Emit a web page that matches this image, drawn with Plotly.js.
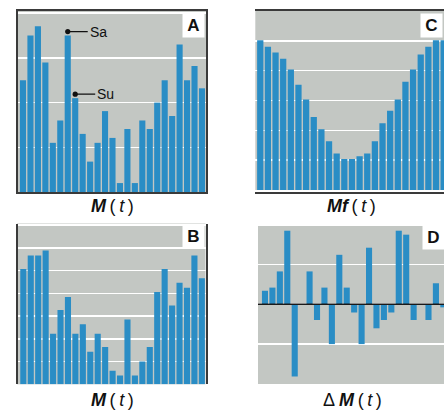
<!DOCTYPE html>
<html>
<head>
<meta charset="utf-8">
<script src="https://cdn.plot.ly/plotly-3.0.1.min.js"></script>
<style>
html,body{margin:0;padding:0;overflow:hidden;background:#fff;}
#chart{width:450px;height:411px;}
</style>
</head>
<body>
<div id="chart"></div>
<script>
// Panel A: M(t)
const valuesA = [2.50, 3.50, 3.71, 2.90, 1.10, 1.60, 3.50, 2.10, 1.30, 0.68, 1.10, 1.81, 1.21, 0.20, 1.41, 0.20, 1.60, 1.41, 2.00, 2.50, 1.70, 3.30, 2.50, 2.82, 2.32];
// Panel B: M(t)
const valuesB = [5.07, 5.66, 5.66, 5.88, 2.22, 3.27, 3.84, 2.22, 2.64, 1.43, 2.22, 1.64, 0.60, 0.39, 2.85, 0.39, 1.00, 1.64, 4.06, 5.07, 3.46, 4.46, 4.25, 5.66, 4.66];
// Panel C: Mf(t)
const valuesC = [5.02, 4.80, 4.61, 4.40, 4.04, 3.53, 3.03, 2.45, 2.04, 1.63, 1.22, 1.04, 1.04, 1.13, 1.22, 1.63, 2.24, 2.66, 3.03, 3.63, 4.04, 4.54, 4.80, 5.02, 5.02];
// Panel D: ΔM(t)
const valuesD = [0.34, 0.42, 0.83, 1.86, -1.83, 0, 0.83, -0.40, 0.42, -1.01, 1.25, 0.42, -0.21, -1.01, 1.43, -0.61, -0.40, -0.21, 1.86, 1.76, -0.40, 0, -0.40, 0.53, -0.08];

const panelLetters = ['A', 'C', 'B', 'D'];
const TS = '\u2009';
const panelTitles = [
  '<b><i>M</i></b>' + TS + '(' + TS + '<i>t</i>' + TS + ')',
  '<b><i>Mf</i></b>' + TS + '(' + TS + '<i>t</i>' + TS + ')',
  '<b><i>M</i></b>' + TS + '(' + TS + '<i>t</i>' + TS + ')',
  'Δ <b><i>M</i></b>' + TS + '(' + TS + '<i>t</i>' + TS + ')'
];
const markerLabels = ['Sa', 'Su'];
const markerIndex = [6, 7];

const W = 450, H = 411;
const BAR = '#2a8dc5';
const FRAME = '#3a3a3a';
const idx = arr => arr.map((_, i) => i);

const trace = (vals, n) => ({
  type: 'bar', x: idx(vals), y: vals,
  xaxis: 'x' + (n === 1 ? '' : n), yaxis: 'y' + (n === 1 ? '' : n),
  marker: {color: BAR, line: {width: 0}}, hoverinfo: 'none', showlegend: false
});

const data = [trace(valuesA, 1), trace(valuesC, 2), trace(valuesB, 3), trace(valuesD, 4)];

function px(x0, x1) { return [x0 / W, x1 / W]; }
function py(top, bot) { return [(H - bot) / H, (H - top) / H]; }

const xa = (dom, rng) => ({domain: dom, range: rng, showgrid: false, zeroline: false, showticklabels: false, ticks: '',
  showline: true, mirror: true, linecolor: FRAME, linewidth: 2, layer: 'above traces', fixedrange: true});
const ya = (dom, rng, dt) => ({domain: dom, range: rng, dtick: dt, tick0: 0, showgrid: true, gridcolor: '#ffffff', gridwidth: 1.6,
  zeroline: false, showticklabels: false, ticks: '',
  showline: true, mirror: true, linecolor: FRAME, linewidth: 2, layer: 'above traces', fixedrange: true});

const layout = {
  width: W, height: H,
  margin: {l: 0, r: 0, t: 0, b: 0},
  paper_bgcolor: '#ffffff',
  plot_bgcolor: '#c3c7c3',
  bargap: 0.18,
  font: {family: 'Liberation Sans, Arial, sans-serif', color: '#111'},
  xaxis:  xa(px(18, 206), [-0.67, 24.54]),
  yaxis:  ya(py(11, 192), [0, 4.05], 1),
  xaxis2: xa(px(255.3, 449), [-0.65, 24.7]),
  yaxis2: ya(py(11, 190), [0, 6.0], 1),
  xaxis3: xa(px(17, 205.5), [-0.85, 24.49]),
  yaxis3: ya(py(223.5, 384.3), [0, 7.07], 1),
  xaxis4: xa(px(258, 449), [-0.94, 24.76]),
  yaxis4: ya(py(224, 384), [-2.02, 2.03], 1),
  shapes: [
    {type: 'line', xref: 'x4 domain', yref: 'y4', x0: 0, x1: 1, y0: 0, y1: 0, line: {color: '#1a1a1a', width: 1.6}, layer: 'above'}
  ],
  annotations: []
};

// panel letter boxes
const boxPos = [[193, 25], [431.5, 25], [193, 237], [433, 238]];
panelLetters.forEach((L, i) => {
  layout.annotations.push({
    text: '<b>' + L + '</b>', xref: 'paper', yref: 'paper',
    x: boxPos[i][0] / W, y: 1 - boxPos[i][1] / H, xanchor: 'center', yanchor: 'middle',
    showarrow: false, bgcolor: '#ffffff', width: 21, height: 23, borderpad: 0,
    font: {size: 17, color: '#111', family: 'Liberation Sans, Arial, sans-serif'}
  });
});

// panel titles below
const titleX = [112, 351, 112, 352];
panelTitles.forEach((T, i) => {
  const top = i < 2;
  layout.annotations.push({
    text: T, xref: 'paper', yref: 'paper',
    x: titleX[i] / W, y: top ? 1 - 206 / H : 0, xanchor: 'center', yanchor: top ? 'middle' : 'bottom',
    borderpad: 0,
    showarrow: false, font: {size: 18, color: '#111', family: 'Liberation Sans, Arial, sans-serif'}
  });
});

// Sa / Su callouts
markerLabels.forEach((lab, i) => {
  const k = markerIndex[i];
  layout.annotations.push({
    text: lab, xref: 'x', yref: 'y', x: k, y: valuesA[k], yshift: 4,
    showarrow: true, arrowhead: 6, arrowside: 'end', arrowsize: 1, arrowwidth: 1.3, arrowcolor: '#111',
    ax: 20, ay: 0, xanchor: 'left', yanchor: 'middle', borderpad: 1,
    font: {size: 14, color: '#111', family: 'Liberation Sans Narrow, Arial Narrow, Liberation Sans, sans-serif'}
  });
});

Plotly.newPlot('chart', data, layout, {staticPlot: true, displayModeBar: false});
</script>
</body>
</html>
